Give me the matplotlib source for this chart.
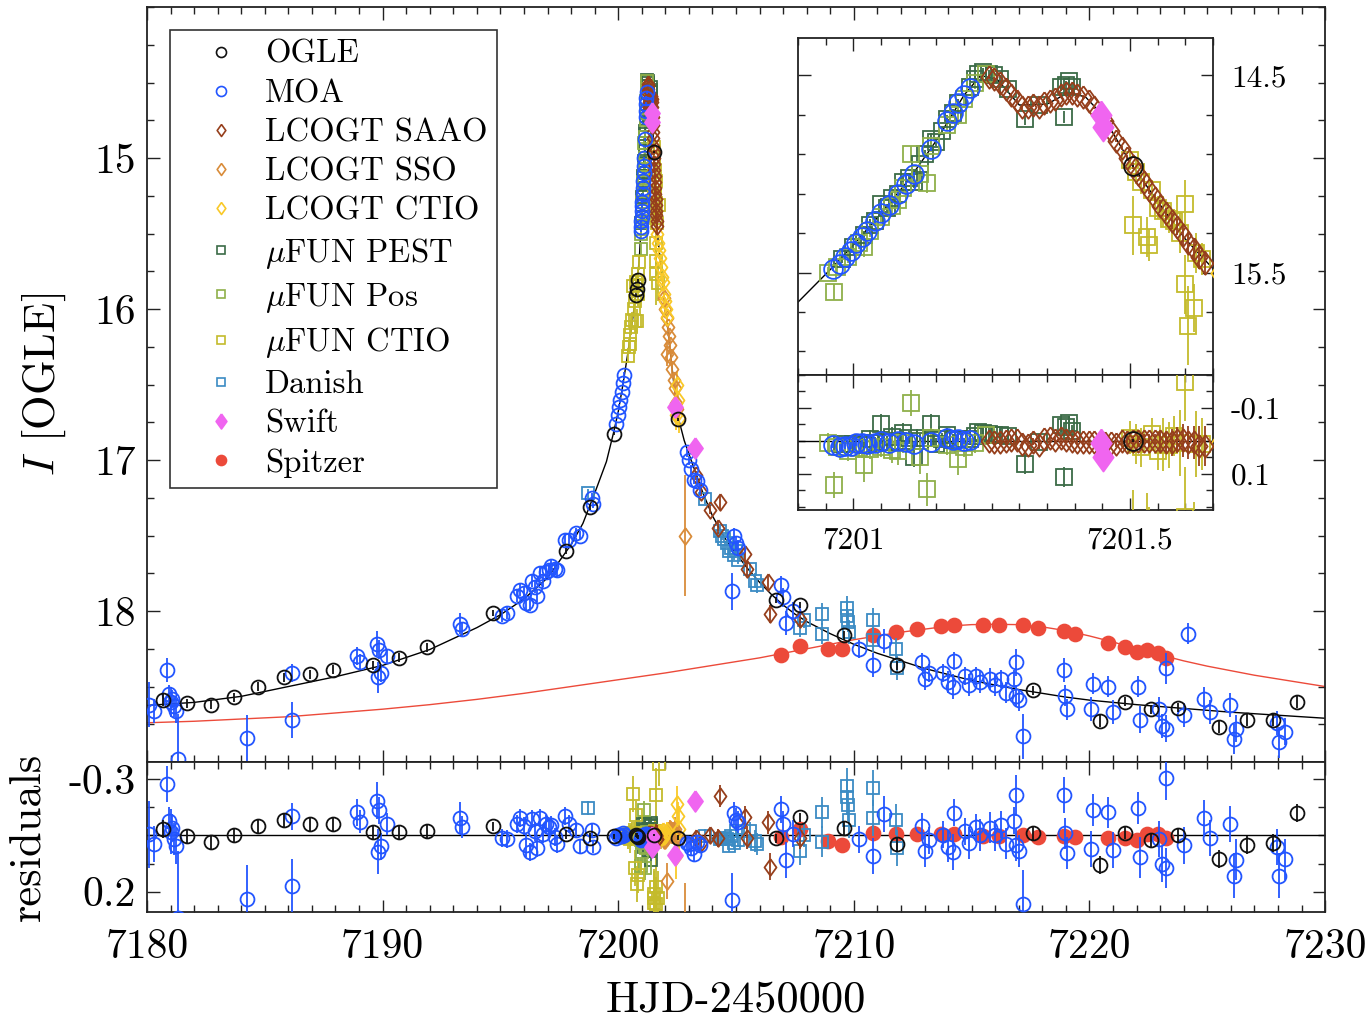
import numpy as np
import matplotlib.pyplot as plt
from matplotlib.lines import Line2D
from matplotlib.ticker import MultipleLocator, FixedLocator

plt.rcParams['font.family'] = 'serif'
plt.rcParams['font.serif'] = ['cmr10', 'DejaVu Serif']
plt.rcParams['mathtext.fontset'] = 'cm'
plt.rcParams['axes.unicode_minus'] = False
plt.rcParams['axes.formatter.use_mathtext'] = True

# ground-based model curve
model_t = [7180.0, 7182.0, 7184.0, 7186.0, 7188.0, 7190.0, 7192.0, 7194.0, 7195.0, 7196.0,
           7197.0, 7198.0, 7198.5, 7199.0, 7199.5, 7199.8, 7200.0, 7200.2, 7200.4, 7200.6,
           7200.7, 7200.8, 7200.9, 7200.96, 7201.0, 7201.05, 7201.1, 7201.15, 7201.2, 7201.23,
           7201.26, 7201.3, 7201.35, 7201.39, 7201.42, 7201.45, 7201.5, 7201.55, 7201.6, 7201.65,
           7201.8, 7202.0, 7202.2, 7202.4, 7202.55, 7202.8, 7203.0, 7203.3, 7203.6, 7204.0,
           7204.5, 7205.0, 7205.5, 7206.0, 7206.5, 7207.0, 7207.5, 7208.0, 7209.0, 7210.0,
           7211.0, 7212.0, 7213.0, 7214.0, 7215.0, 7216.0, 7217.0, 7218.0, 7219.0, 7220.0,
           7222.0, 7224.0, 7226.0, 7228.0, 7230.0]
model_mag = [18.625, 18.605, 18.565, 18.50, 18.435, 18.36, 18.255, 18.11, 18.025, 17.92,
             17.78, 17.56, 17.42, 17.22, 17.01, 16.82, 16.68, 16.50, 16.30, 16.08,
             15.96, 15.84, 15.65, 15.48, 15.36, 15.20, 15.03, 14.83, 14.60, 14.50,
             14.52, 14.65, 14.645, 14.585, 14.61, 14.70, 14.94, 15.14, 15.33, 15.48,
             15.70, 15.98, 16.27, 16.55, 16.72, 16.87, 16.96, 17.09, 17.22, 17.37,
             17.51, 17.62, 17.72, 17.81, 17.89, 17.96, 18.02, 18.07, 18.15, 18.22,
             18.28, 18.33, 18.38, 18.42, 18.46, 18.49, 18.52, 18.545, 18.57, 18.59,
             18.62, 18.645, 18.67, 18.69, 18.71]

# Spitzer model curve (red line)
sp_model_t = [7180, 7182, 7184, 7186, 7188, 7190, 7192, 7194, 7196, 7198, 7200, 7202, 7203,
              7204, 7205, 7206, 7207, 7208, 7209, 7210, 7211, 7212, 7213, 7214, 7215, 7216,
              7217, 7218, 7219, 7220, 7221, 7222, 7223, 7224, 7225, 7226, 7227, 7228, 7229,
              7230]
sp_model_mag = [18.74, 18.73, 18.715, 18.70, 18.675, 18.65, 18.62, 18.585, 18.545, 18.50,
                18.455, 18.41, 18.385, 18.36, 18.335, 18.31, 18.28, 18.25, 18.22, 18.19,
                18.165, 18.14, 18.12, 18.10, 18.09, 18.088, 18.09, 18.105, 18.13, 18.165,
                18.205, 18.25, 18.29, 18.33, 18.365, 18.395, 18.425, 18.45, 18.475, 18.50]

ogle_t = [7180.7, 7181.7, 7182.7, 7183.7, 7184.7, 7185.8, 7186.9, 7187.9, 7189.6, 7190.7,
          7191.9, 7194.7, 7197.8, 7198.8, 7199.8, 7200.74, 7200.78, 7200.82, 7201.505, 7202.55,
          7206.7, 7207.7, 7209.6, 7211.85, 7217.6, 7220.45, 7221.5, 7222.6, 7223.75, 7225.5,
          7226.7, 7227.8, 7228.8]
ogle_mag = [18.59, 18.61, 18.62, 18.57, 18.50, 18.44, 18.42, 18.39, 18.36, 18.31,
            18.24, 18.01, 17.60, 17.31, 16.825, 15.91, 15.865, 15.81, 14.96, 16.73,
            17.93, 17.96, 18.16, 18.36, 18.525, 18.73, 18.60, 18.65, 18.64, 18.77,
            18.72, 18.72, 18.60]
ogle_err = [0.04, 0.03, 0.03, 0.03, 0.03, 0.03, 0.03, 0.03, 0.03, 0.03,
            0.03, 0.02, 0.02, 0.02, 0.01, 0.01, 0.01, 0.01, 0.005, 0.01,
            0.02, 0.02, 0.03, 0.03, 0.03, 0.04, 0.03, 0.03, 0.03, 0.04,
            0.04, 0.04, 0.04]

moa_t = [7180.1, 7180.3, 7180.85, 7180.95, 7181.0, 7181.08, 7181.15, 7181.24, 7181.32, 7184.25,
         7186.15, 7186.15, 7188.9, 7189.05, 7189.75, 7189.85, 7189.8, 7189.95, 7190.2, 7193.3,
         7193.35, 7195.05, 7195.3, 7195.7, 7195.85, 7196.0, 7196.1, 7196.25, 7196.33, 7196.45,
         7196.55, 7196.67, 7196.8, 7196.92, 7197.05, 7197.15, 7197.3, 7197.4, 7197.74, 7197.9,
         7198.2, 7198.38, 7198.87, 7198.95, 7199.9, 7199.97, 7200.03, 7200.09, 7200.15, 7200.2,
         7200.26, 7200.964, 7200.975, 7200.985, 7200.995, 7201.005, 7201.015, 7201.025, 7201.04, 7201.05,
         7201.065, 7201.08, 7201.095, 7201.11, 7201.14, 7201.17, 7201.18, 7201.19, 7201.2, 7201.21,
         7202.9, 7203.0, 7203.1, 7203.2, 7203.35, 7203.45, 7204.83, 7204.9, 7205.0, 7205.1,
         7206.9, 7207.0, 7207.1, 7207.4, 7210.2, 7210.8, 7211.3, 7212.9, 7213.0, 7213.2,
         7213.8, 7214.0, 7214.25, 7214.2, 7214.7, 7214.9, 7215.2, 7215.35, 7215.8, 7216.0,
         7216.25, 7216.45, 7216.8, 7216.9, 7216.9, 7217.0, 7217.2, 7218.9, 7218.95, 7219.05,
         7220.15, 7220.05, 7220.8, 7221.0, 7222.05, 7222.15, 7222.95, 7223.1, 7223.25, 7223.25,
         7224.2, 7224.0, 7224.85, 7225.1, 7225.95, 7226.15, 7226.2, 7227.95, 7228.05, 7228.3]
moa_mag = [18.62, 18.66, 18.39, 18.55, 18.60, 18.58, 18.63, 18.66, 18.98, 18.84,
           18.41, 18.72, 18.30, 18.335, 18.215, 18.255, 18.44, 18.41, 18.30, 18.085,
           18.12, 18.03, 18.01, 17.90, 17.86, 17.88, 17.95, 17.96, 17.80, 17.84,
           17.90, 17.75, 17.80, 17.74, 17.73, 17.70, 17.72, 17.73, 17.53, 17.53,
           17.48, 17.50, 17.25, 17.29, 16.76, 16.70, 16.65, 16.60, 16.55, 16.49,
           16.44, 15.48, 15.455, 15.42, 15.39, 15.35, 15.32, 15.29, 15.24, 15.20,
           15.155, 15.10, 15.05, 15.00, 14.875, 14.73, 14.69, 14.64, 14.60, 14.565,
           16.95, 17.00, 17.06, 17.13, 17.14, 17.20, 17.87, 17.50, 17.55, 17.58,
           17.83, 17.91, 18.08, 18.00, 18.25, 18.36, 18.20, 18.335, 18.45, 18.41,
           18.41, 18.47, 18.33, 18.50, 18.43, 18.49, 18.43, 18.47, 18.45, 18.49,
           18.45, 18.54, 18.45, 18.34, 18.56, 18.59, 18.83, 18.39, 18.56, 18.65,
           18.48, 18.65, 18.50, 18.67, 18.50, 18.72, 18.65, 18.76, 18.78, 18.38,
           18.15, 18.69, 18.58, 18.67, 18.62, 18.85, 18.78, 18.74, 18.87, 18.80]
moa_err = [0.15, 0.08, 0.08, 0.06, 0.10, 0.06, 0.07, 0.08, 0.30, 0.15,
           0.06, 0.12, 0.06, 0.05, 0.08, 0.06, 0.10, 0.06, 0.05, 0.07,
           0.05, 0.04, 0.04, 0.04, 0.04, 0.04, 0.05, 0.04, 0.04, 0.04,
           0.04, 0.04, 0.04, 0.04, 0.04, 0.04, 0.04, 0.04, 0.04, 0.04,
           0.03, 0.03, 0.03, 0.03, 0.02, 0.02, 0.02, 0.02, 0.02, 0.02,
           0.02, 0.01, 0.01, 0.01, 0.01, 0.01, 0.01, 0.01, 0.01, 0.01,
           0.01, 0.01, 0.01, 0.01, 0.01, 0.01, 0.01, 0.01, 0.01, 0.01,
           0.03, 0.03, 0.03, 0.03, 0.03, 0.03, 0.12, 0.05, 0.05, 0.05,
           0.06, 0.06, 0.08, 0.06, 0.06, 0.08, 0.08, 0.06, 0.07, 0.06,
           0.06, 0.07, 0.06, 0.08, 0.06, 0.07, 0.06, 0.07, 0.07, 0.07,
           0.06, 0.07, 0.06, 0.09, 0.07, 0.07, 0.15, 0.08, 0.07, 0.07,
           0.07, 0.08, 0.07, 0.08, 0.07, 0.09, 0.08, 0.08, 0.09, 0.10,
           0.07, 0.08, 0.08, 0.08, 0.08, 0.10, 0.09, 0.08, 0.10, 0.09]

saao_t = [7201.245, 7201.255, 7201.265, 7201.275, 7201.285, 7201.295, 7201.305, 7201.315, 7201.325, 7201.335,
          7201.345, 7201.355, 7201.365, 7201.375, 7201.385, 7201.395, 7201.405, 7201.415, 7201.425, 7201.435,
          7201.455, 7201.465, 7201.475, 7201.485, 7201.495, 7201.505, 7201.515, 7201.525, 7201.535, 7201.545,
          7201.555, 7201.565, 7201.575, 7201.585, 7201.595, 7201.605, 7201.615, 7201.625, 7201.635,
          7203.3, 7203.5, 7203.9, 7204.25, 7204.3, 7205.4, 7205.45, 7206.36, 7206.44, 7207.7]
saao_mag = [14.51, 14.52, 14.54, 14.57, 14.60, 14.63, 14.66, 14.66, 14.65, 14.66,
            14.64, 14.63, 14.62, 14.60, 14.59, 14.59, 14.60, 14.61, 14.63, 14.66,
            14.73, 14.78, 14.83, 14.87, 14.92, 14.96, 15.00, 15.04, 15.08, 15.12,
            15.16, 15.20, 15.24, 15.27, 15.31, 15.35, 15.38, 15.42, 15.45,
            17.10, 17.21, 17.33, 17.45, 17.28, 17.62, 17.72, 17.81, 18.02, 18.05]
saao_err = [0.01, 0.01, 0.01, 0.01, 0.01, 0.01, 0.01, 0.01, 0.01, 0.01,
            0.01, 0.01, 0.01, 0.01, 0.01, 0.01, 0.01, 0.01, 0.01, 0.01,
            0.01, 0.01, 0.01, 0.01, 0.015, 0.015, 0.015, 0.02, 0.02, 0.02,
            0.03, 0.03, 0.04, 0.04, 0.05, 0.05, 0.05, 0.06, 0.06,
            0.03, 0.03, 0.03, 0.04, 0.05, 0.05, 0.05, 0.05, 0.06, 0.05]

sso_t = [7201.95, 7202.0, 7202.05, 7202.08, 7202.1, 7202.15, 7202.2, 7202.25, 7202.3, 7202.35,
         7202.4, 7202.45, 7202.5, 7202.84]
sso_mag = [15.93, 16.00, 16.06, 16.30, 16.12, 16.18, 16.24, 16.32, 16.40, 16.47,
           16.52, 16.62, 16.66, 17.50]
sso_err = [0.03, 0.03, 0.03, 0.08, 0.03, 0.04, 0.04, 0.04, 0.05, 0.05,
           0.05, 0.06, 0.06, 0.40]

lcctio_t = [7201.66, 7201.7, 7201.74, 7201.78, 7201.82, 7201.86, 7201.9, 7201.94, 7201.98, 7202.02,
            7202.06, 7202.45, 7202.48, 7202.52, 7202.6]
lcctio_mag = [15.50, 15.56, 15.61, 15.66, 15.72, 15.79, 15.82, 15.90, 15.95, 16.00,
              16.05, 16.70, 16.50, 16.60, 16.72]
lcctio_err = [0.02, 0.02, 0.02, 0.02, 0.03, 0.03, 0.03, 0.03, 0.03, 0.03,
              0.04, 0.10, 0.08, 0.06, 0.10]

pest_t = [7200.98, 7201.0, 7201.02, 7201.03, 7201.04, 7201.05, 7201.06, 7201.07, 7201.08, 7201.09,
          7201.1, 7201.11, 7201.12, 7201.13, 7201.14, 7201.15, 7201.16, 7201.17, 7201.18, 7201.19,
          7201.21, 7201.22, 7201.225, 7201.235, 7201.245, 7201.255, 7201.265, 7201.28, 7201.31, 7201.335,
          7201.375, 7201.38, 7201.385, 7201.39, 7201.395]
pest_mag = [15.43, 15.37, 15.31, 15.26, 15.24, 15.15, 15.17, 15.12, 15.10, 15.04,
            15.02, 15.04, 14.95, 14.90, 14.82, 14.84, 14.78, 14.72, 14.69, 14.64,
            14.56, 14.52, 14.49, 14.48, 14.49, 14.50, 14.52, 14.57, 14.72, 14.65,
            14.56, 14.71, 14.55, 14.53, 14.56]
pest_err = [0.02, 0.02, 0.02, 0.03, 0.02, 0.03, 0.02, 0.03, 0.02, 0.03,
            0.02, 0.03, 0.02, 0.02, 0.03, 0.02, 0.02, 0.02, 0.02, 0.02,
            0.02, 0.02, 0.02, 0.02, 0.02, 0.02, 0.02, 0.02, 0.03, 0.02,
            0.02, 0.03, 0.02, 0.02, 0.02]

pos_t = [7200.955, 7200.965, 7200.97, 7200.99, 7201.01, 7201.02, 7201.03, 7201.05, 7201.07, 7201.08,
         7201.09, 7201.104, 7201.12, 7201.133, 7201.14, 7201.17, 7201.19, 7201.2, 7201.22, 7201.24]
pos_mag = [15.50, 15.60, 15.47, 15.42, 15.35, 15.37, 15.29, 15.22, 15.16, 15.13,
           15.07, 14.90, 15.00, 15.045, 14.86, 14.75, 14.70, 14.62, 14.54, 14.49]
pos_err = [0.03, 0.04, 0.03, 0.03, 0.03, 0.05, 0.03, 0.03, 0.04, 0.04,
           0.03, 0.04, 0.05, 0.05, 0.03, 0.03, 0.05, 0.03, 0.03, 0.03]

fctio_t = [7200.4, 7200.44, 7200.48, 7200.52, 7200.56, 7200.6, 7200.64, 7200.66, 7200.7, 7200.72,
           7200.74, 7200.78, 7200.8, 7200.84, 7200.86, 7200.88,
           7201.5, 7201.505, 7201.51, 7201.52, 7201.53, 7201.535, 7201.54, 7201.55, 7201.56, 7201.57,
           7201.58, 7201.59, 7201.6, 7201.6, 7201.605, 7201.615, 7201.62, 7201.63, 7201.7, 7201.75]
fctio_mag = [16.31, 16.25, 16.23, 16.17, 16.12, 16.07, 15.85, 16.00, 15.95, 16.08,
             15.82, 16.08, 15.84, 15.77, 15.90, 15.69,
             14.93, 15.26, 14.99, 15.04, 15.32, 15.36, 15.08, 15.17, 15.19, 15.23,
             15.24, 15.30, 15.15, 15.56, 15.77, 15.68, 15.40, 15.43, 15.83, 15.31]
fctio_err = [0.05, 0.05, 0.06, 0.05, 0.05, 0.05, 0.08, 0.05, 0.05, 0.08,
             0.06, 0.08, 0.05, 0.05, 0.08, 0.05,
             0.05, 0.15, 0.06, 0.06, 0.10, 0.08, 0.05, 0.06, 0.08, 0.07,
             0.06, 0.10, 0.12, 0.15, 0.20, 0.12, 0.10, 0.08, 0.12, 0.10]

danish_t = [7198.7, 7203.7, 7204.3, 7204.4, 7204.5, 7204.6, 7204.7, 7204.8, 7204.9, 7205.0,
            7205.1, 7205.6, 7205.8, 7205.9, 7207.7, 7207.9, 7208.65, 7208.65, 7209.7, 7209.7,
            7209.75, 7209.8, 7210.8, 7210.8, 7211.8, 7211.85]
danish_mag = [17.22, 17.26, 17.47, 17.50, 17.52, 17.55, 17.60, 17.58, 17.63, 17.60,
              17.66, 17.72, 17.80, 17.83, 18.11, 18.06, 18.02, 18.15, 17.98, 18.03,
              18.07, 18.14, 18.06, 18.19, 18.25, 18.38]
danish_err = [0.03, 0.03, 0.03, 0.03, 0.03, 0.03, 0.03, 0.03, 0.03, 0.03,
              0.03, 0.04, 0.05, 0.05, 0.06, 0.05, 0.07, 0.07, 0.08, 0.08,
              0.07, 0.08, 0.08, 0.08, 0.07, 0.08]

swift_t = [7201.448, 7201.452, 7202.41, 7203.26]
swift_mag = [14.70, 14.76, 16.65, 16.92]
swift_err = [0.02, 0.02, 0.03, 0.03]

spitzer_t = [7206.9, 7207.7, 7208.9, 7209.5, 7210.8, 7211.8, 7212.7, 7213.7, 7214.25, 7215.5,
             7216.15, 7217.2, 7217.8, 7218.9, 7219.4, 7220.8, 7221.5, 7222.0, 7222.45, 7222.9,
             7223.25]
spitzer_mag = [18.29, 18.23, 18.25, 18.25, 18.16, 18.14, 18.12, 18.10, 18.09, 18.09,
               18.09, 18.09, 18.11, 18.13, 18.15, 18.21, 18.24, 18.27, 18.26, 18.28,
               18.31]
spitzer_err = [0.01] * len(spitzer_t)

RES_LINE = -0.05   # level of the model line in the lower panel
DIAMOND = [(0, 1), (0.72, 0), (0, -1), (-0.72, 0), (0, 1)]
INSET_SCALE = 1.35

# label, t, mag, err, marker, colour, filled, size, zorder, model
series = [
    ('OGLE', ogle_t, ogle_mag, ogle_err, 'o', '#111111', False, 10, 10, 'g'),
    ('MOA', moa_t, moa_mag, moa_err, 'o', '#2255ff', False, 10, 7, 'g'),
    ('LCOGT SAAO', saao_t, saao_mag, saao_err, DIAMOND, '#963f1c', False, 12, 6, 'g'),
    ('LCOGT SSO', sso_t, sso_mag, sso_err, DIAMOND, '#d98c3a', False, 12, 5, 'g'),
    ('LCOGT CTIO', lcctio_t, lcctio_mag, lcctio_err, DIAMOND, '#f9c928', False, 12, 5, 'g'),
    (r'$\mu$FUN PEST', pest_t, pest_mag, pest_err, 's', '#3b6b47', False, 8.5, 4, 'g'),
    (r'$\mu$FUN Pos', pos_t, pos_mag, pos_err, 's', '#8fb04a', False, 8.5, 4, 'g'),
    (r'$\mu$FUN CTIO', fctio_t, fctio_mag, fctio_err, 's', '#c4bb2c', False, 8.5, 4, 'g'),
    ('Danish', danish_t, danish_mag, danish_err, 's', '#3b8bc4', False, 8.5, 5, 'g'),
    ('Swift', swift_t, swift_mag, swift_err, DIAMOND, '#f065f0', True, 15, 8, 'g'),
    ('Spitzer', spitzer_t, spitzer_mag, spitzer_err, 'o', '#ec4a3a', True, 10, 3, 's'),
]


def draw(ax, t, y, e, marker, color, filled, ms, z):
    ax.errorbar(t, y, yerr=e, ls='none', marker=marker, ms=ms,
                mfc=color if filled else 'none', mec=color, mew=1.3,
                ecolor=color, elinewidth=1.3, capsize=0, zorder=z)


def style(ax, size):
    ax.tick_params(which='both', direction='in', top=True, right=True,
                   width=1.0, color='#222222', labelsize=size)
    ax.tick_params(which='major', length=9)
    ax.tick_params(which='minor', length=5)
    for s in ax.spines.values():
        s.set_linewidth(1.3)
        s.set_color('#222222')


fig = plt.figure(figsize=(13.7, 10.23), dpi=100)
ax = fig.add_axes([0.1073, 0.2551, 0.8599, 0.7380])
axr = fig.add_axes([0.1073, 0.1085, 0.8599, 0.1466], sharex=ax)
axi = fig.add_axes([0.5825, 0.6334, 0.3029, 0.3294], zorder=20)
axir = fig.add_axes([0.5825, 0.5015, 0.3029, 0.1320], sharex=axi, zorder=20)

models = {'g': (model_t, model_mag), 's': (sp_model_t, sp_model_mag)}

ax.plot(sp_model_t, sp_model_mag, color='#ec4a3a', lw=1.0, zorder=2)
ax.plot(model_t, model_mag, color='k', lw=1.0, zorder=2)
axi.plot(model_t, model_mag, color='k', lw=1.0, zorder=2)
axr.axhline(RES_LINE, color='k', lw=1.0, zorder=2)
axir.axhline(0, color='k', lw=1.0, zorder=2)

handles = []
for lab, t, m, e, mk, col, filled, ms, z, mod in series:
    t = np.array(t); m = np.array(m); e = np.array(e)
    mt, mm = models[mod]
    res = m - np.interp(t, mt, mm)
    draw(ax, t, m, e, mk, col, filled, ms, z)
    draw(axr, t, res + RES_LINE, e, mk, col, filled, ms, z)
    draw(axi, t, m, e, mk, col, filled, ms * INSET_SCALE, z)
    draw(axir, t, res, e, mk, col, filled, ms * INSET_SCALE, z)
    handles.append(Line2D([], [], ls='none', marker=mk, ms=ms * 0.72,
                          mfc=col if filled else 'none', mec=col, mew=1.2, label=lab))

# main light curve
ax.set_xlim(7180, 7230)
ax.set_ylim(19.0, 14.0)
ax.set_yticks([15, 16, 17, 18], labels=['15', '16', '17', '18'])
ax.yaxis.set_minor_locator(MultipleLocator(0.25))
ax.xaxis.set_major_locator(MultipleLocator(10))
ax.xaxis.set_minor_locator(MultipleLocator(1))
style(ax, 30)
ax.tick_params(labelbottom=False)
ax.tick_params(axis='y', pad=8)
ax.set_ylabel('$I$ [OGLE]', fontsize=32)
ax.yaxis.set_label_coords(-0.067, 0.5)

leg = ax.legend(handles=handles, loc='upper left', bbox_to_anchor=(0.0195, 0.9695),
                borderaxespad=0, fontsize=23.5, frameon=True, fancybox=False,
                edgecolor='#333333', framealpha=1, borderpad=0.3, labelspacing=0.31,
                handlelength=2.5, handletextpad=0.1)
leg.get_frame().set_linewidth(1.2)

# main residuals
axr.set_ylim(0.29, -0.375)
axr.set_yticks([-0.3, 0.2], labels=['-0.3', '0.2'])
axr.yaxis.set_minor_locator(FixedLocator([-0.175, -0.05, 0.075]))
style(axr, 30)
axr.tick_params(axis='y', pad=8)
axr.set_xticks([7180, 7190, 7200, 7210, 7220, 7230],
               labels=['7180', '7190', '7200', '7210', '7220', '7230'])
axr.tick_params(axis='x', pad=12)
axr.set_xlabel('HJD-2450000', fontsize=32, labelpad=10)
axr.set_ylabel('residuals', fontsize=32)
axr.yaxis.set_label_coords(-0.084, 0.5)

# inset around the peak
axi.set_xlim(7200.90, 7201.65)
axi.set_ylim(16.02, 14.31)
axi.set_yticks([14.5, 15.5], labels=['14.5', '15.5'])
axi.yaxis.set_minor_locator(FixedLocator([14.7, 14.9, 15.1, 15.3, 15.7, 15.9]))
axi.set_xticks([7201, 7201.5])
axi.xaxis.set_minor_locator(MultipleLocator(0.05))
style(axi, 22.5)
axi.tick_params(labelbottom=False, labelleft=False, labelright=True)
axi.tick_params(axis='y', pad=13)
axi.set_facecolor('white')

axir.set_ylim(0.21, -0.2)
axir.set_yticks([-0.1, 0.1], labels=['-0.1', '0.1'])
axir.yaxis.set_minor_locator(MultipleLocator(0.05))
axir.set_xticks([7201, 7201.5], labels=['7201', '7201.5'])
style(axir, 22.5)
axir.tick_params(labelleft=False, labelright=True)
axir.tick_params(axis='y', pad=13)
axir.tick_params(axis='x', pad=12)
axir.set_facecolor('white')

fig.savefig('out.png', dpi=100)
